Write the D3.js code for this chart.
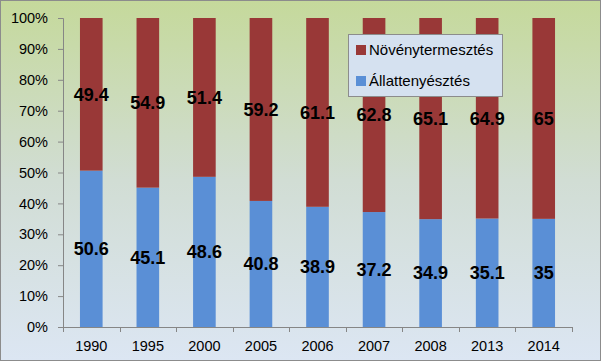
<!DOCTYPE html>
<html><head><meta charset="utf-8">
<script src="https://cdn.jsdelivr.net/npm/d3@7"></script>
<style>body{margin:0;padding:0;background:#fff}svg{display:block}</style>
</head><body>
<script>
const categories = ["1990","1995","2000","2005","2006","2007","2008","2013","2014"];
const allat = [50.6,45.1,48.6,40.8,38.9,37.2,34.9,35.1,35];
const noveny = [49.4,54.9,51.4,59.2,61.1,62.8,65.1,64.9,65];
const seriesNames = ["Növénytermesztés","Állattenyésztés"];
const yTicks = [0,10,20,30,40,50,60,70,80,90,100];

(function(){
const W=601,H=361;
const svg=d3.select("body").append("svg").attr("width",W).attr("height",H);
const defs=svg.append("defs");
const g=defs.append("linearGradient").attr("id","bg").attr("x1",0).attr("y1",0).attr("x2",0).attr("y2",1);
g.append("stop").attr("offset","0%").attr("stop-color","#c5d99b");
g.append("stop").attr("offset","50%").attr("stop-color","#d1ddd4");
g.append("stop").attr("offset","100%").attr("stop-color","#dce6f3");
svg.append("rect").attr("x",0.5).attr("y",0.5).attr("width",W-1).attr("height",H-1).attr("fill","url(#bg)").attr("stroke","#8c8c8c");

const pl=63,pr=572,pt=18,pb=327;
const x=d3.scaleBand().domain(categories).range([pl,pr]).paddingInner(0.6).paddingOuter(0.3);
const y=d3.scaleLinear().domain([0,100]).range([pb,pt]);
const font="'Liberation Sans', Arial, sans-serif";
const red="#993837", blue="#5a8fd6";

categories.forEach((c,i)=>{
  const a=allat[i], n=noveny[i], tot=a+n;
  const ap=a/tot*100;
  svg.append("rect").attr("x",x(c)).attr("width",x.bandwidth()).attr("y",y(ap)).attr("height",y(0)-y(ap)).attr("fill",blue);
  svg.append("rect").attr("x",x(c)).attr("width",x.bandwidth()).attr("y",y(100)).attr("height",y(ap)-y(100)).attr("fill",red);
  svg.append("text").attr("x",x(c)+x.bandwidth()/2).attr("y",(y(0)+y(ap))/2).attr("dy","0.35em")
    .attr("text-anchor","middle").attr("font-family",font).attr("font-weight","bold").attr("font-size",18).attr("fill","#000").text(a);
  svg.append("text").attr("x",x(c)+x.bandwidth()/2).attr("y",(y(ap)+y(100))/2).attr("dy","0.35em")
    .attr("text-anchor","middle").attr("font-family",font).attr("font-weight","bold").attr("font-size",18).attr("fill","#000").text(n);
});

const ya=svg.append("g").attr("transform",`translate(${pl},0)`)
  .call(d3.axisLeft(y).tickValues(yTicks).tickFormat(d=>d+"%").tickSize(5).tickPadding(10));
const xa=svg.append("g").attr("transform",`translate(0,${pb})`)
  .call(d3.axisBottom(x).tickSize(0).tickPadding(14));
[ya,xa].forEach(a=>{
  a.select(".domain").attr("stroke","#868686");
  a.selectAll(".tick line").attr("stroke","#868686");
  a.selectAll("text").attr("font-family",font).attr("font-size",14.5).attr("fill","#000");
});
for(let i=0;i<=categories.length;i++){
  const xx=Math.round(pl+(pr-pl)*i/categories.length)+0.5;
  svg.append("line").attr("x1",xx).attr("x2",xx).attr("y1",pb).attr("y2",pb+5).attr("stroke","#868686");
}

const lg=svg.append("g").attr("transform","translate(348,34)");
lg.append("rect").attr("x",0.5).attr("y",0.5).attr("width",154).attr("height",62).attr("fill","#d5e1f0").attr("stroke","#8c8c8c");
[[red,seriesNames[0]],[blue,seriesNames[1]]].forEach((d,i)=>{
  lg.append("rect").attr("x",8).attr("y",11+i*31).attr("width",10).attr("height",10).attr("fill",d[0]);
  lg.append("text").attr("x",21).attr("y",16+i*31).attr("dy","0.35em").attr("font-family",font).attr("font-size",15).attr("fill","#000").text(d[1]);
});
})();
</script>
</body></html>
